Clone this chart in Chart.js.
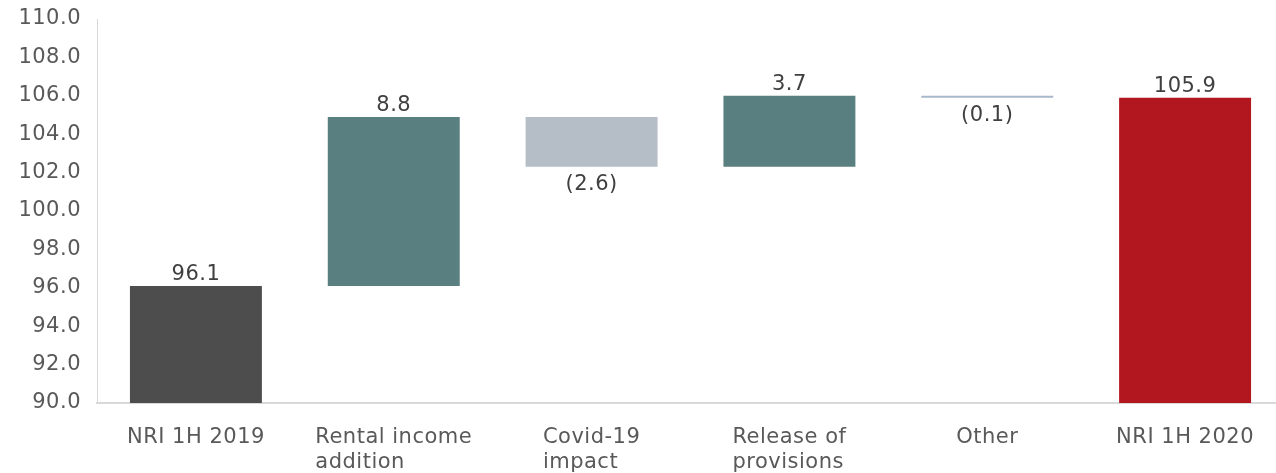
<!DOCTYPE html>
<html>
<head>
<meta charset="utf-8">
<script src="https://cdn.jsdelivr.net/npm/chart.js@4/dist/chart.umd.min.js"></script>
<style>
  html, body { margin: 0; padding: 0; background: #fff; overflow: hidden; }
  #wrap { width: 1284px; height: 473px; }
</style>
</head>
<body>
<div id="wrap"><canvas id="nri" width="1284" height="473"></canvas></div>
<script>
  // ── Data ─────────────────────────────────────────────
  const categories = [
    ["NRI 1H 2019"],
    ["Rental income", "addition"],
    ["Covid-19", "impact"],
    ["Release of", "provisions"],
    ["Other"],
    ["NRI 1H 2020"],
  ];
  const startValue = 96.1;
  const changes    = [8.8, -2.6, 3.7, -0.1];
  const endValue   = 105.9;
  const valueLabels = ["96.1", "8.8", "(2.6)", "3.7", "(0.1)", "105.9"];
  const yTicks = [90, 92, 94, 96, 98, 100, 102, 104, 106, 108, 110];

  const AXIS_MIN = 90;
  const colors = ["#4d4d4d", "#5a7f80", "#b5bdc6", "#5a7f80", "#a9b9cc", "#b2171f"];

  // floating bars: [from, to]
  const bars = [[AXIS_MIN, startValue]];
  let run = startValue;
  changes.forEach((c) => {
    const next = Math.round((run + c) * 10) / 10;
    bars.push([run, next]);
    run = next;
  });
  bars.push([AXIS_MIN, endValue]);

  const FONT = "'DejaVu Sans', Verdana, sans-serif";
  const SIZE = 21;
  const SPACING = "0.5px";   // reference text runs a little wider than DejaVu

  const spacingPlugin = {
    id: "spacing",
    beforeDraw(chart) { chart.ctx.letterSpacing = SPACING; },
  };

  // value labels above gains/totals, below losses
  const valueLabelPlugin = {
    id: "valueLabels",
    afterDatasetsDraw(chart) {
      const { ctx } = chart;
      const meta = chart.getDatasetMeta(0);
      const y = chart.scales.y;
      ctx.save();
      ctx.letterSpacing = SPACING;
      ctx.font = SIZE + "px " + FONT;
      ctx.fillStyle = "#404040";
      ctx.textAlign = "center";
      meta.data.forEach((bar, i) => {
        const [a, b] = bars[i];
        if (b >= a) {
          ctx.textBaseline = "bottom";
          ctx.fillText(valueLabels[i], bar.x, y.getPixelForValue(b) - 1);
        } else {
          ctx.textBaseline = "top";
          ctx.fillText(valueLabels[i], bar.x, y.getPixelForValue(b) + 7);
        }
      });
      ctx.restore();
    },
  };

  // category labels: block centred, lines left-aligned
  const catLabelPlugin = {
    id: "catLabels",
    afterDraw(chart) {
      const { ctx } = chart;
      const x = chart.scales.x;
      ctx.save();
      ctx.letterSpacing = SPACING;
      ctx.font = SIZE + "px " + FONT;
      ctx.fillStyle = "#595959";
      ctx.textBaseline = "alphabetic";
      ctx.textAlign = "left";
      categories.forEach((lines, i) => {
        const cx = x.getPixelForValue(i);
        const w = Math.max(...lines.map((l) => ctx.measureText(l).width));
        lines.forEach((l, j) => {
          ctx.fillText(l, cx - w / 2, 443 + j * 25);
        });
      });
      ctx.restore();
    },
  };

  new Chart(document.getElementById("nri"), {
    type: "bar",
    data: {
      labels: categories.map((c) => c.join(" ")),
      datasets: [
        {
          data: bars,
          backgroundColor: colors,
          borderWidth: 0,
          barPercentage: 0.667,
          categoryPercentage: 1,
          borderSkipped: false,
        },
      ],
    },
    options: {
      responsive: false,
      animation: false,
      devicePixelRatio: 1,
      layout: { padding: { top: 19, left: 0, right: 0, bottom: 0 } },
      plugins: { legend: { display: false }, tooltip: { enabled: false } },
      scales: {
        x: {
          grid: { display: false, drawTicks: false },
          border: { color: "#d9d9d9", width: 2 },
          ticks: { display: false },
          afterFit: (s) => { s.height = 70; },
        },
        y: {
          min: AXIS_MIN,
          max: 110,
          afterBuildTicks: (s) => { s.ticks = yTicks.map((v) => ({ value: v })); },
          grid: { display: false, drawTicks: false },
          border: { color: "#d9d9d9", width: 1 },
          ticks: {
            color: "#595959",
            font: { family: FONT, size: SIZE },
            padding: 16,
            callback: (v) => Number(v).toFixed(1),
          },
          afterFit: (s) => { s.width = 97; s.paddingTop = 0; s.paddingBottom = 0; },
        },
      },
    },
    plugins: [spacingPlugin, valueLabelPlugin, catLabelPlugin],
  });
</script>
</body>
</html>
